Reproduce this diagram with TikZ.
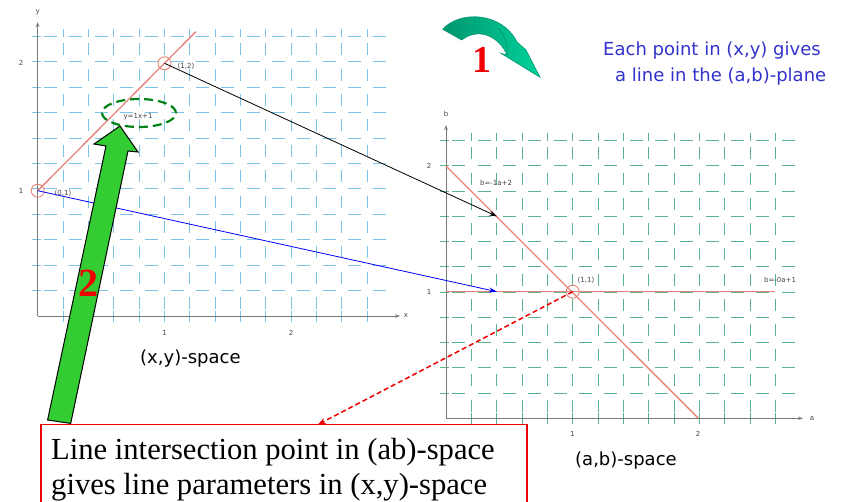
\documentclass[tikz,border=0pt]{standalone}
\usepackage{fontspec}
\setmainfont{Liberation Serif}
\newfontfamily\sansf{DejaVu Sans}
\usetikzlibrary{arrows.meta,shapes.geometric}
\definecolor{gblue}{RGB}{125,195,232}
\definecolor{ggreen}{RGB}{90,180,140}
\definecolor{axisgray}{RGB}{120,120,120}
\definecolor{redline}{RGB}{232,130,120}
\definecolor{txtblue}{RGB}{50,50,205}
\definecolor{bigred}{RGB}{240,0,0}
\definecolor{boxred}{RGB}{235,0,0}
\definecolor{arrowgreen}{RGB}{51,204,51}
\definecolor{ellgreen}{RGB}{0,130,20}
\definecolor{tealdark}{RGB}{0,150,110}
\definecolor{teallight}{RGB}{0,210,155}
\definecolor{labgray}{RGB}{70,70,70}
\tikzset{
  axisline/.style={draw=axisgray, line width=0.9pt, -{Stealth[length=5pt,width=3.5pt]}},
  curve/.style={draw=redline, line width=1.3pt},
  ptcircle/.style={circle, draw=redline, line width=0.9pt, minimum size=13pt, inner sep=0pt},
  small/.style={font=\sansf\fontsize{7}{8}\selectfont, text=labgray, inner sep=0pt},
  ticklab/.style={font=\sansf\fontsize{7}{8}\selectfont, text=labgray, inner sep=0pt},
  bigsans/.style={font=\sansf\fontsize{18}{21}\selectfont, inner sep=0pt},
  bignum/.style={font=\bfseries\fontsize{40}{40}\selectfont, text=bigred, inner sep=0pt},
  boxtxt/.style={font=\fontsize{30.6}{36}\selectfont, text=black, inner sep=0pt, anchor=base west},
  conn/.style={line width=0.8pt, -{Stealth[length=8pt,width=5pt]}}
}
\begin{document}
\begin{tikzpicture}[x=1pt,y=-1pt]
\useasboundingbox (0,0) rectangle (846,502);
\fill[white] (0,0) rectangle (846,502);

% ---------- left grid (x,y)-space ----------
\begin{scope}[draw=gblue, line width=1pt]
\foreach \j in {1,...,11} {
  \draw (32,{316-\j*25.4}) -- (41,{316-\j*25.4});
  \foreach \i in {0,...,13} {
    \draw ({37.7+(\i+0.5)*25.35-6.5},{316-\j*25.4}) -- ++(13,0);
  }
}
\foreach \i in {1,...,13} {
  \draw ({37.7+\i*25.35},311) -- ({37.7+\i*25.35},322);
  \draw ({37.7+\i*25.35},{316-11*25.4-8}) -- ({37.7+\i*25.35},{316-11*25.4});
  \foreach \j in {0,...,10} {
    \draw ({37.7+\i*25.35},{316-(\j+0.5)*25.4-6}) -- ++(0,12);
  }
}
\end{scope}
\draw[axisline] (37.7,316) -- (37.7,22);
\draw[axisline] (37.7,316) -- (400,316);
\node[ticklab] (ly) at (37.7,12) {y};
\node[ticklab] (lx) at (406,316) {x};
\node[ticklab] (ly2) at (21,63.3) {2};
\node[ticklab] (ly1) at (21,190.7) {1};
\node[ticklab] (lx1) at (164.5,333) {1};
\node[ticklab] (lx2) at (291,333) {2};

\draw[curve] (37.7,190.7) -- (196,31.6);
\node[ptcircle] (p01) at (37.7,190.7) {};
\node[ptcircle] (p12) at (164.5,63.3) {};
\node[small] (l01) at (63,193) {(0,1)};
\node[small] (l12) at (186,66) {(1,2)};
\node[small] (leq) at (138,117) {y=1x+1};

\node[bigsans, anchor=base west] (xyspace) at (140,364) {(x,y)-space};

% ---------- right grid (a,b)-space ----------
\begin{scope}[draw=ggreen, line width=1pt]
\foreach \j in {1,...,11} {
  \draw (440,{418.3-\j*25.23}) -- (449,{418.3-\j*25.23});
  \foreach \i in {0,...,13} {
    \draw ({446+(\i+0.5)*25.34-6.5},{418.3-\j*25.23}) -- ++(13,0);
  }
}
\foreach \i in {1,...,13} {
  \draw ({446+\i*25.34},413) -- ({446+\i*25.34},424);
  \draw ({446+\i*25.34},{418.3-11*25.23-8}) -- ({446+\i*25.34},{418.3-11*25.23});
  \foreach \j in {0,...,10} {
    \draw ({446+\i*25.34},{418.3-(\j+0.5)*25.23-6}) -- ++(0,12);
  }
}
\end{scope}
\draw[axisline] (446,418.3) -- (446,125);
\draw[axisline] (446,418.3) -- (803,418.3);
\node[ticklab] (rb) at (446,114) {b};
\node[ticklab] (ra) at (812,418.3) {a};
\node[ticklab] (rb2) at (429,166) {2};
\node[ticklab] (rb1) at (429,291.7) {1};
\node[ticklab] (ra1) at (572.7,434) {1};
\node[ticklab] (ra2) at (698,434) {2};

\draw[curve] (446,166) -- (698.4,418.3);
\draw[curve] (446,291.7) -- (775,291.7);
\node[ptcircle] (q11) at (572.7,291.7) {};
\node[small] (l11) at (586,280) {(1,1)};
\node[small] (leq1) at (496,183) {b=-1a+2};
\node[small] (leq2) at (780,280) {b=-0a+1};

\node[bigsans, anchor=base west] (abspace) at (575,465) {(a,b)-space};

% ---------- connectors ----------
\coordinate (t1) at (497,216.4);
\coordinate (t2) at (497,291.7);
\draw[conn, black] (p12.center) -- (t1);
\draw[conn, blue] (p01.center) -- (t2);

% ---------- green arrow 2 ----------
\draw[fill=arrowgreen, draw=black, line width=1pt, line join=miter]
  (47.6,420) -- (106,146) -- (94,144) -- (120,126) -- (138,152) -- (128,151) -- (70.7,423.4) -- cycle;
\node[bignum] (two) at (88,283) {2};
\node[ellipse, draw=ellgreen, line width=2.2pt, dash pattern=on 9pt off 5pt,
      minimum width=74pt, minimum height=28pt, inner sep=0pt] (ell) at (139,113) {};

% ---------- curved arrow 1 ----------
\shade[left color=tealdark, right color=teallight, draw=tealdark, line width=0.6pt]
  (442.7,29.3) .. controls (460,10) and (502,12) .. (517,42)
  -- (526,50) -- (540,77.3) -- (501,53.3) -- (507,55)
  .. controls (500,38) and (480,26) .. (461.7,40) -- cycle;
\draw[draw=tealdark, line width=0.6pt] (498,28.3) .. controls (505,35) and (508,45) .. (507,55);
\node[bignum, font=\bfseries\fontsize{38}{38}\selectfont] (one) at (482,60) {1};

% ---------- blue text ----------
\node[bigsans, text=txtblue, anchor=base west] (bt1) at (603,56) {Each point in (x,y) gives};
\node[bigsans, text=txtblue, anchor=base west] (bt2) at (615,82) {a line in the (a,b)-plane};

% ---------- red box ----------
\draw[draw=boxred, line width=1.3pt] (41,424.5) rectangle (527,530);
\coordinate (boxtop) at (318,424.5);
\node[boxtxt] (bl1) at (51,459.5) {Line intersection point in (ab)-space};
\node[boxtxt] (bl2) at (51,494.5) {gives line parameters in (x,y)-space};
\draw[draw=boxred, line width=1.5pt, dash pattern=on 5pt off 3pt, -{Stealth[length=8pt,width=6pt]}]
  (q11.center) -- (boxtop);
\end{tikzpicture}
\end{document}
